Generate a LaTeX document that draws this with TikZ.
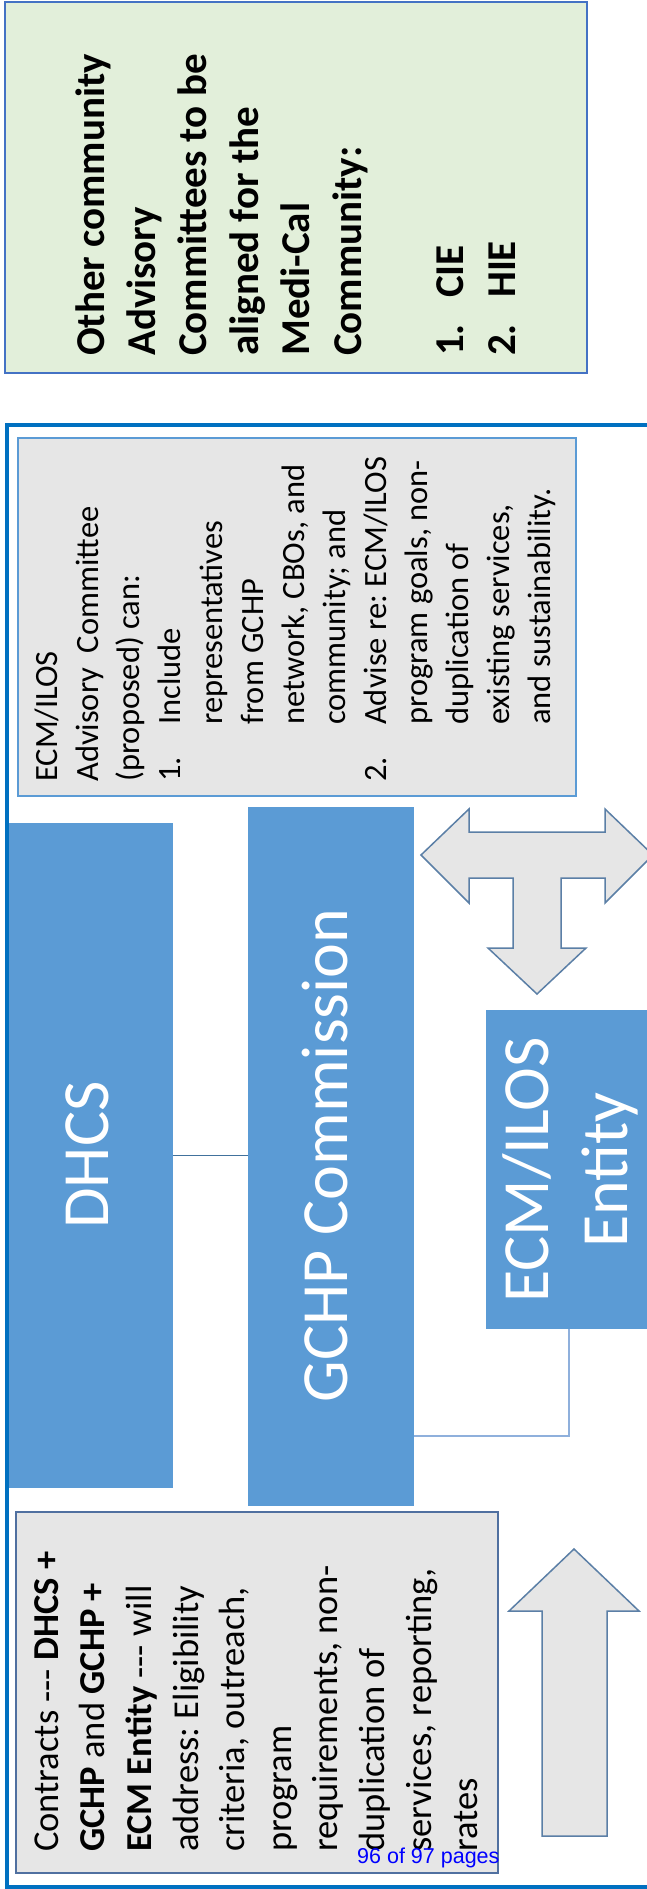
\documentclass[tikz,border=0pt]{standalone}
\usepackage{fontspec}
\setmainfont{Carlito}
\newfontfamily\pagefont{Liberation Sans}
\usepackage{tikz}

\definecolor{frameblue}{HTML}{0070C0}
\definecolor{boxblue}{HTML}{5B9BD5}
\definecolor{panelgray}{HTML}{E6E6E6}
\definecolor{panelgreen}{HTML}{E2EFDA}
\definecolor{greenline}{HTML}{4472C4}
\definecolor{advline}{HTML}{5B9BD5}
\definecolor{contractline}{HTML}{5070A0}
\definecolor{arrowline}{HTML}{5B7FA6}
\definecolor{darklink}{HTML}{41719C}
\definecolor{lightlink}{HTML}{8FB0DC}

\begin{document}
\frenchspacing
\begin{tikzpicture}[x=1pt, y=-1pt,
	bluebox/.style={rectangle, fill=boxblue, inner sep=0pt},
	panel/.style={rectangle, fill=panelgray, inner sep=0pt, line width=1.5pt},
	sidetext/.style={rotate=90, anchor=north west, inner sep=0pt, align=left},
	boxlabel/.style={rotate=90, inner sep=0pt, align=center, text=white, font=\fontsize{66}{79}\selectfont},
	bigarrow/.style={fill=panelgray, draw=arrowline, line width=1.5pt, line join=miter},
	link/.style={line width=1.4pt}]
	\clip (0,0) rectangle (647,1889);
	
	\node[rectangle, fill=panelgreen, draw=greenline, line width=1.5pt, minimum width=582pt, minimum height=371pt] (other) at (296,187.5) {};
	\node[sidetext, font=\fontsize{41}{51.4}\selectfont\bfseries] (othertext) at (68,356)
		{\strut Other community\\Advisory\\Committees to be\\aligned for the\\Medi-Cal\\Community:\\[51.4pt]\makebox[58pt][l]{1.}CIE\\\makebox[58pt][l]{2.}HIE};
	
	\node[rectangle, draw=frameblue, line width=3.5pt, minimum width=663pt, minimum height=1462pt] (frame) at (338.5,1156) {};
	
	\node[panel, draw=advline, minimum width=558pt, minimum height=358pt] (advisory) at (297,617) {};
	\node[sidetext, font=\fontsize{32.5}{41.1}\selectfont] (advisorytext) at (28.7,782)
		{\strut ECM/ILOS\\Advisory\ \ Committee\\(proposed) can:\\
		\makebox[57pt][l]{1.}Include\\\hspace*{57pt}representatives\\\hspace*{57pt}from GCHP\\
		\hspace*{57pt}network, CBOs, and\\\hspace*{57pt}community; and\\
		\makebox[57pt][l]{2.}Advise re: ECM/ILOS\\\hspace*{57pt}program goals, non-\\\hspace*{57pt}duplication of\\
		\hspace*{57pt}existing services,\\\hspace*{57pt}and sustainability.};
	
	\node[bluebox, minimum width=164pt, minimum height=665pt] (dhcs) at (91,1155.5) {};
	\node[boxlabel] (dhcslabel) at (87.5,1155) {DHCS};
	
	\node[bluebox, minimum width=166pt, minimum height=699pt] (gchp) at (331,1156.5) {};
	\node[boxlabel] (gchplabel) at (325,1155.5) {GCHP Commission};
	
	\node[bluebox, minimum width=166pt, minimum height=319pt] (entity) at (569,1169.5) {};
	\node[boxlabel, anchor=north] (entitylabel) at (492.7,1170) {\strut ECM/ILOS\\Entity};
	
	\draw[link, darklink] (dhcs.east) -- (dhcs.east -| gchp.west);
	\coordinate (elbow) at (569,1436);
	\draw[link, lightlink] (entity.south) -- (elbow) -- (elbow -| gchp.east);
	
	\draw[bigarrow] (421,855) -- (469,809) -- (469,832) -- (605,832) -- (605,809) -- (653,855)
		-- (605,903) -- (605,878) -- (561,878) -- (561,948) -- (586,948) -- (537,994)
		-- (488,948) -- (513,948) -- (513,878) -- (469,878) -- (469,903) -- cycle;
	
	\node[panel, draw=contractline, minimum width=482pt, minimum height=361pt] (contracts) at (257,1692.5) {};
	\node[sidetext, font=\fontsize{36.5}{46.6}\selectfont] (contractstext) at (25.4,1852)
		{\strut Contracts -{}-{}- \textbf{DHCS +}\\\textbf{GCHP} and \textbf{GCHP +}\\\textbf{ECM Entity} -{}-{}- will\\
		address: Eligibility\\criteria, outreach,\\program\\requirements, non-\\duplication of\\
		services, reporting,\\rates};
	
	\draw[bigarrow] (574,1549) -- (639,1611) -- (607,1611) -- (607,1836) -- (542,1836) -- (542,1611) -- (509,1611) -- cycle;
	
	\node[anchor=base west, inner sep=0pt, text=blue, font=\pagefont\fontsize{21.5}{26}\selectfont] (pages) at (357,1863) {96 of 97 pages};
\end{tikzpicture}
\end{document}
